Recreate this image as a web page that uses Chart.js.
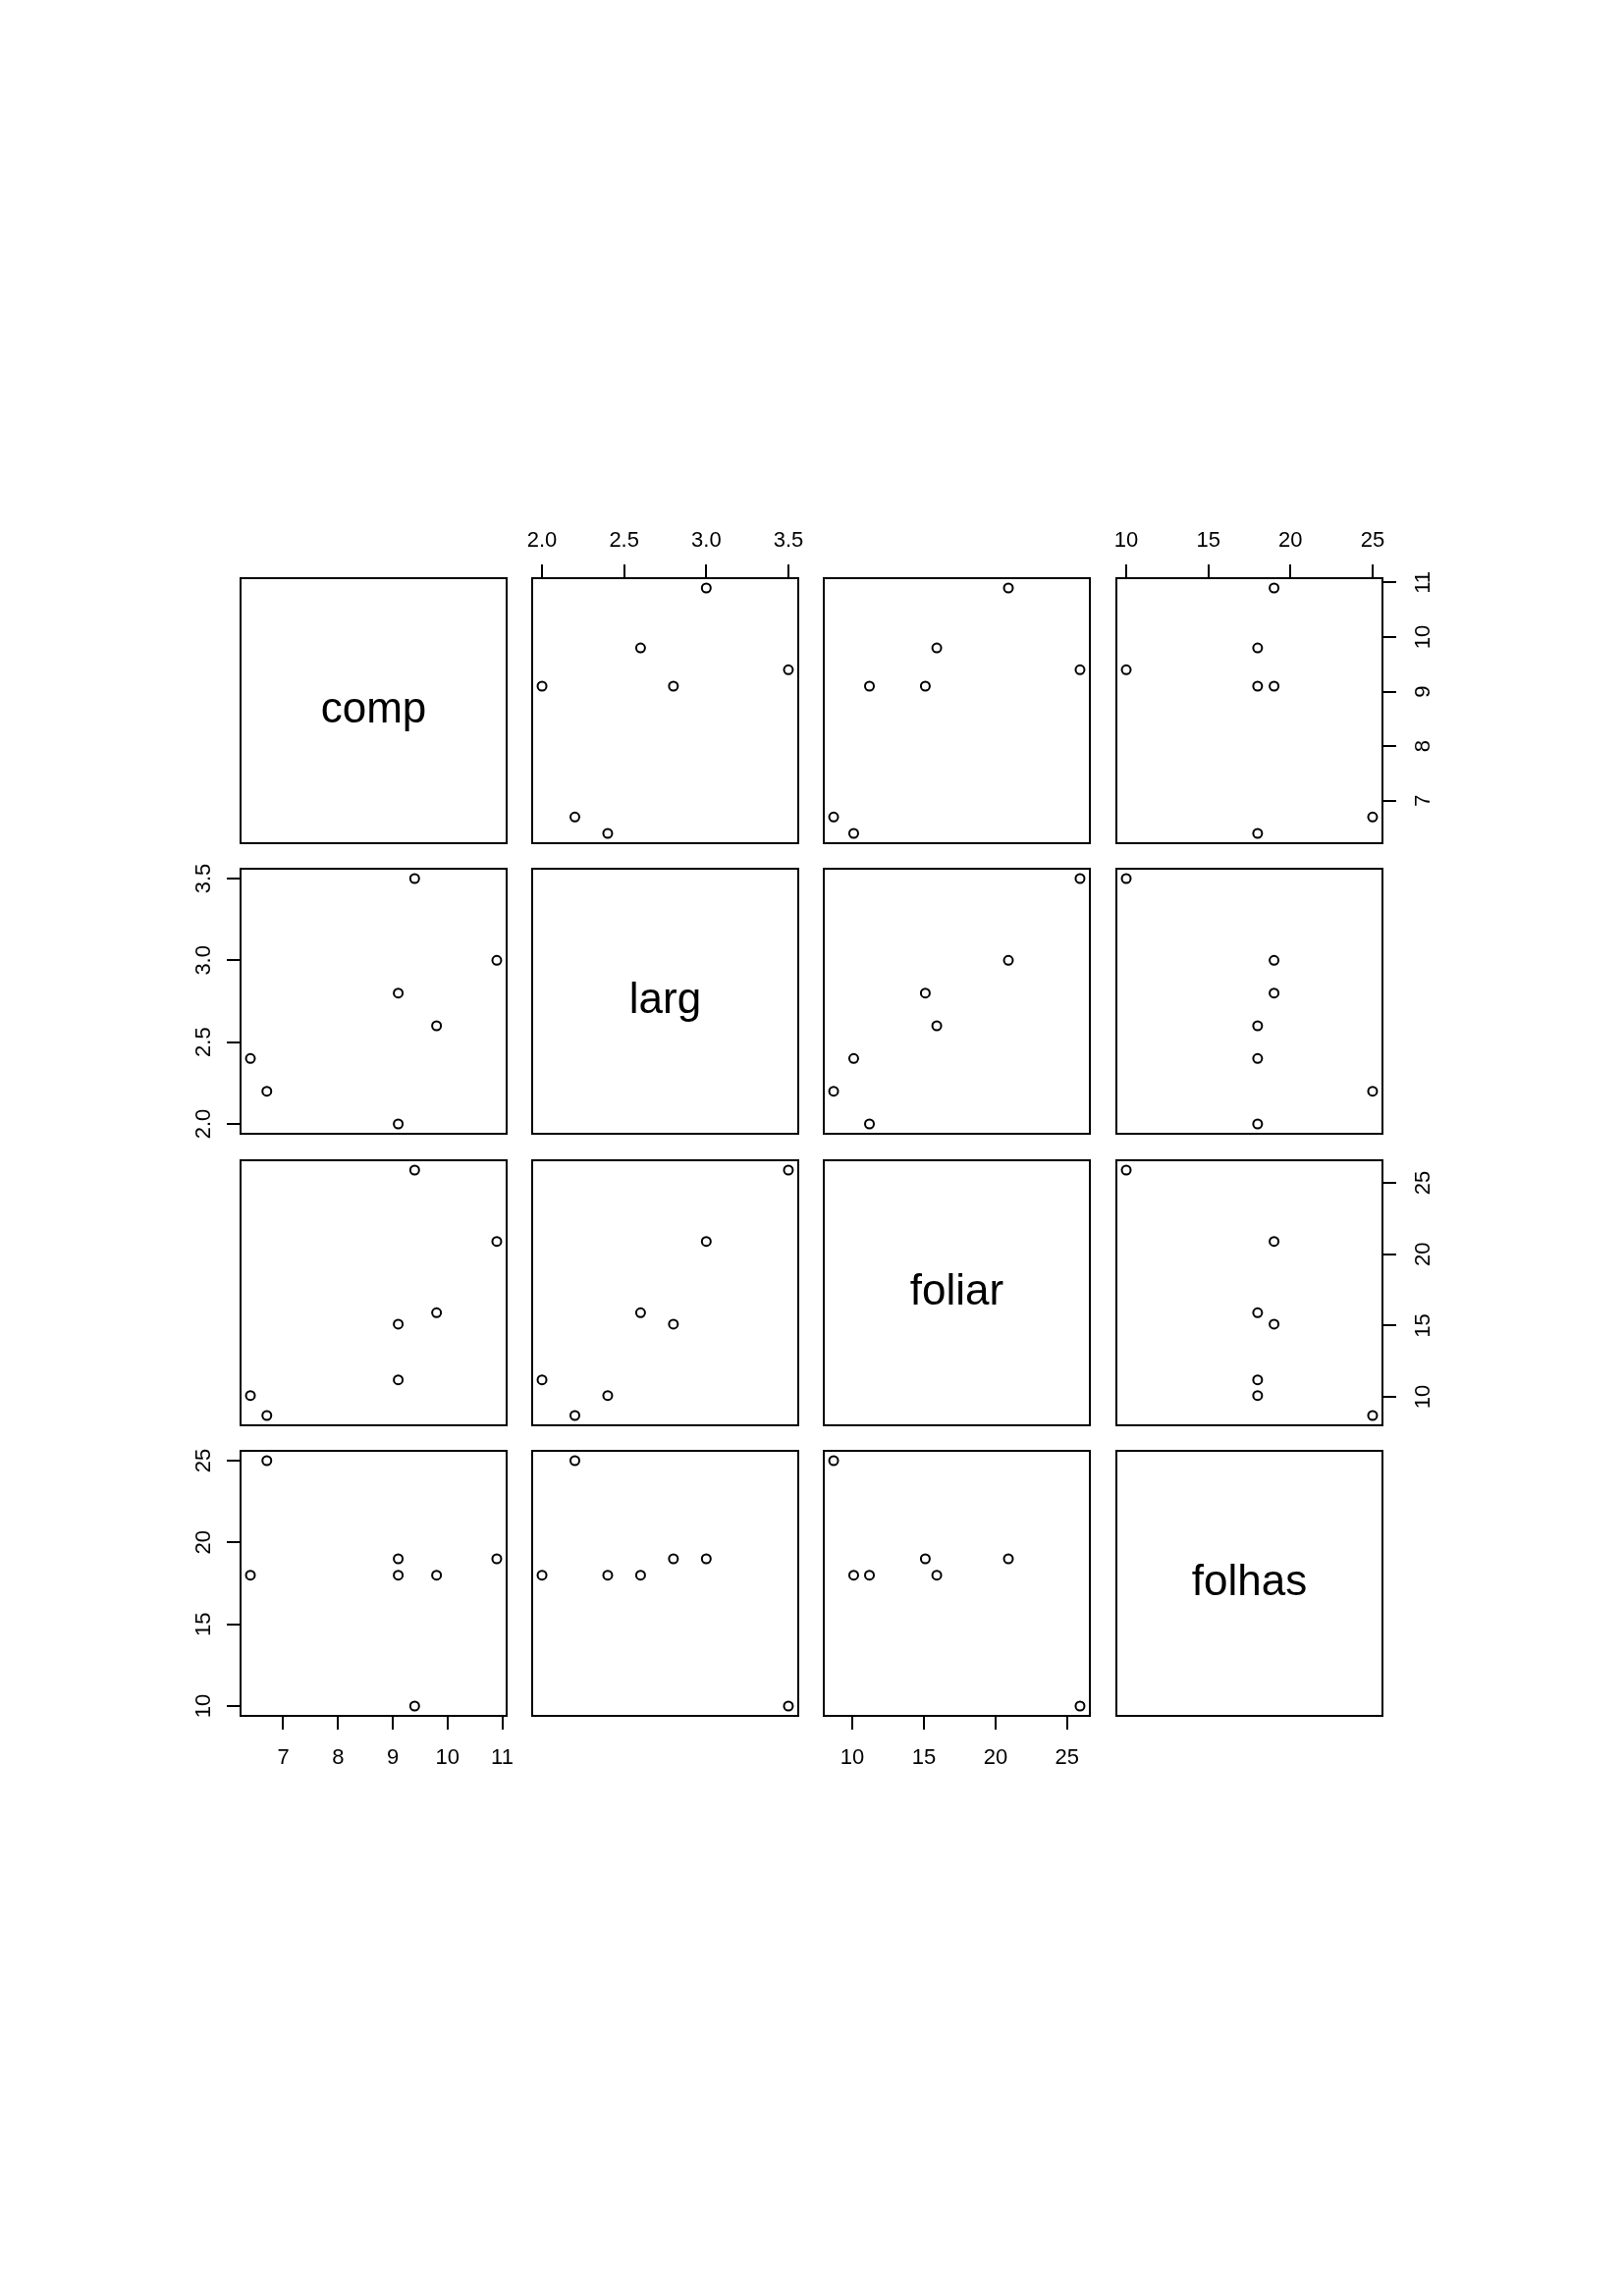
<!DOCTYPE html>
<html>
<head>
<meta charset="utf-8">
<title>pairs</title>
<script src="https://cdn.jsdelivr.net/npm/chart.js@4.4.0/dist/chart.umd.min.js"></script>
<style>
    body { margin: 0; background: #fff; }
    #page { position: relative; width: 1654px; height: 2339px; background: #fff; }
    #page canvas { position: absolute; }
</style>
</head>
<body>
<div id="page"></div>
<script>
// Data: one value per observation
const varNames = ['comp', 'larg', 'foliar', 'folhas'];
const comp = [6.4, 6.7, 9.1, 9.1, 9.4, 9.8, 10.9];
const larg = [2.4, 2.2, 2.8, 2.0, 3.5, 2.6, 3.0];
const foliar = [10.1, 8.7, 15.1, 11.2, 25.9, 15.9, 20.9];
const folhas = [18, 25, 19, 18, 10, 18, 19];

// Tick values and labels for each variable
const compTicks = [7, 8, 9, 10, 11];
const largTicks = [2.0, 2.5, 3.0, 3.5];
const foliarTicks = [10, 15, 20, 25];
const folhasTicks = [10, 15, 20, 25];
const compLabels = ['7', '8', '9', '10', '11'];
const largLabels = ['2.0', '2.5', '3.0', '3.5'];
const foliarLabels = ['10', '15', '20', '25'];
const folhasLabels = ['10', '15', '20', '25'];

const vars = [comp, larg, foliar, folhas];
const ticks = [compTicks, largTicks, foliarTicks, folhasTicks];
const labels = [compLabels, largLabels, foliarLabels, folhasLabels];

// Panel layout
const colLeft = [245, 542, 839, 1137];
const rowTop = [589, 885, 1182, 1478];
const panelW = 271;
const panelH = 270;
const M = 80;
const FONT = '"Liberation Sans", Arial, Helvetica, sans-serif';
const tickLen = 14;

// R style axis range: data range extended by 4% each side
function range(arr) {
    const lo = Math.min(...arr), hi = Math.max(...arr);
    const r = hi - lo;
    return [lo - 0.04 * r, hi + 0.04 * r];
}

const measure = document.createElement('canvas').getContext('2d');
measure.font = '22px ' + FONT;
function yPadding(lbls, offset) {
    const w = Math.max(...lbls.map(t => measure.measureText(t).width));
    return offset - w / 2;
}

// Box round each panel and the variable name on the diagonal
const boxPlugin = {
    id: 'box',
    afterDraw(chart, args, opts) {
        const a = chart.chartArea;
        const ctx = chart.ctx;
        ctx.save();
        if (opts.label) {
            ctx.fillStyle = '#000';
            ctx.font = '44px ' + FONT;
            ctx.textAlign = 'center';
            ctx.textBaseline = 'middle';
            ctx.fillText(opts.label, (a.left + a.right) / 2, (a.top + a.bottom) / 2);
        }
        ctx.strokeStyle = '#000';
        ctx.lineWidth = 2;
        ctx.strokeRect(a.left, a.top, a.right - a.left, a.bottom - a.top);
        ctx.restore();
    }
};

function fixSize(prop) {
    return function(s) {
        s[prop] = M;
        s.paddingLeft = 0; s.paddingRight = 0;
        s.paddingTop = 0; s.paddingBottom = 0;
    };
}

const page = document.getElementById('page');

for (let i = 0; i < 4; i++) {
    for (let j = 0; j < 4; j++) {
        const canvas = document.createElement('canvas');
        canvas.width = panelW + 2 * M;
        canvas.height = panelH + 2 * M;
        canvas.style.left = (colLeft[j] - M) + 'px';
        canvas.style.top = (rowTop[i] - M) + 'px';
        page.appendChild(canvas);

        const topAxis = i === 0 && (j === 1 || j === 3);
        const bottomAxis = i === 3 && (j === 0 || j === 2);
        const leftAxis = j === 0 && (i === 1 || i === 3);
        const rightAxis = j === 3 && (i === 0 || i === 2);
        const showX = topAxis || bottomAxis;
        const showY = leftAxis || rightAxis;
        const xPos = topAxis ? 'top' : 'bottom';
        const yPos = rightAxis ? 'right' : 'left';
        const xr = range(vars[j]);
        const yr = range(vars[i]);

        const points = i === j ? [] : vars[j].map((v, k) => ({ x: v, y: vars[i][k] }));

        new Chart(canvas, {
            type: 'scatter',
            data: {
                datasets: [{
                    data: points,
                    pointRadius: 4.5,
                    pointBorderWidth: 2,
                    borderColor: '#000',
                    backgroundColor: 'rgba(0,0,0,0)',
                    pointHoverRadius: 4.5
                }]
            },
            plugins: [boxPlugin],
            options: {
                responsive: false,
                animation: false,
                events: [],
                layout: {
                    padding: {
                        top: xPos === 'top' ? 0 : M,
                        bottom: xPos === 'bottom' ? 0 : M,
                        left: yPos === 'left' ? 0 : M,
                        right: yPos === 'right' ? 0 : M
                    }
                },
                plugins: {
                    legend: { display: false },
                    tooltip: { enabled: false },
                    box: { label: i === j ? varNames[i] : null }
                },
                scales: {
                    x: {
                        type: 'linear',
                        position: xPos,
                        min: xr[0],
                        max: xr[1],
                        afterBuildTicks: s => { s.ticks = ticks[j].map(v => ({ value: v })); },
                        afterFit: fixSize('height'),
                        border: { display: false },
                        grid: {
                            display: showX,
                            drawOnChartArea: false,
                            drawTicks: true,
                            tickLength: tickLen,
                            color: '#000',
                            lineWidth: 2
                        },
                        ticks: {
                            display: showX,
                            autoSkip: false,
                            minRotation: 0,
                            maxRotation: 0,
                            padding: topAxis ? 11 : 16,
                            color: '#000',
                            font: { family: FONT, size: 22 },
                            callback: (v, idx) => labels[j][idx]
                        }
                    },
                    y: {
                        type: 'linear',
                        position: yPos,
                        min: yr[0],
                        max: yr[1],
                        afterBuildTicks: s => { s.ticks = ticks[i].map(v => ({ value: v })); },
                        afterFit: fixSize('width'),
                        border: { display: false },
                        grid: {
                            display: showY,
                            drawOnChartArea: false,
                            drawTicks: true,
                            tickLength: tickLen,
                            color: '#000',
                            lineWidth: 2
                        },
                        ticks: {
                            display: showY,
                            autoSkip: false,
                            minRotation: 90,
                            maxRotation: 90,
                            crossAlign: 'center',
                            padding: yPadding(labels[i], rightAxis ? 28 : 23),
                            color: '#000',
                            font: { family: FONT, size: 22 },
                            callback: (v, idx) => labels[i][idx]
                        }
                    }
                }
            }
        });
    }
}
</script>
</body>
</html>
